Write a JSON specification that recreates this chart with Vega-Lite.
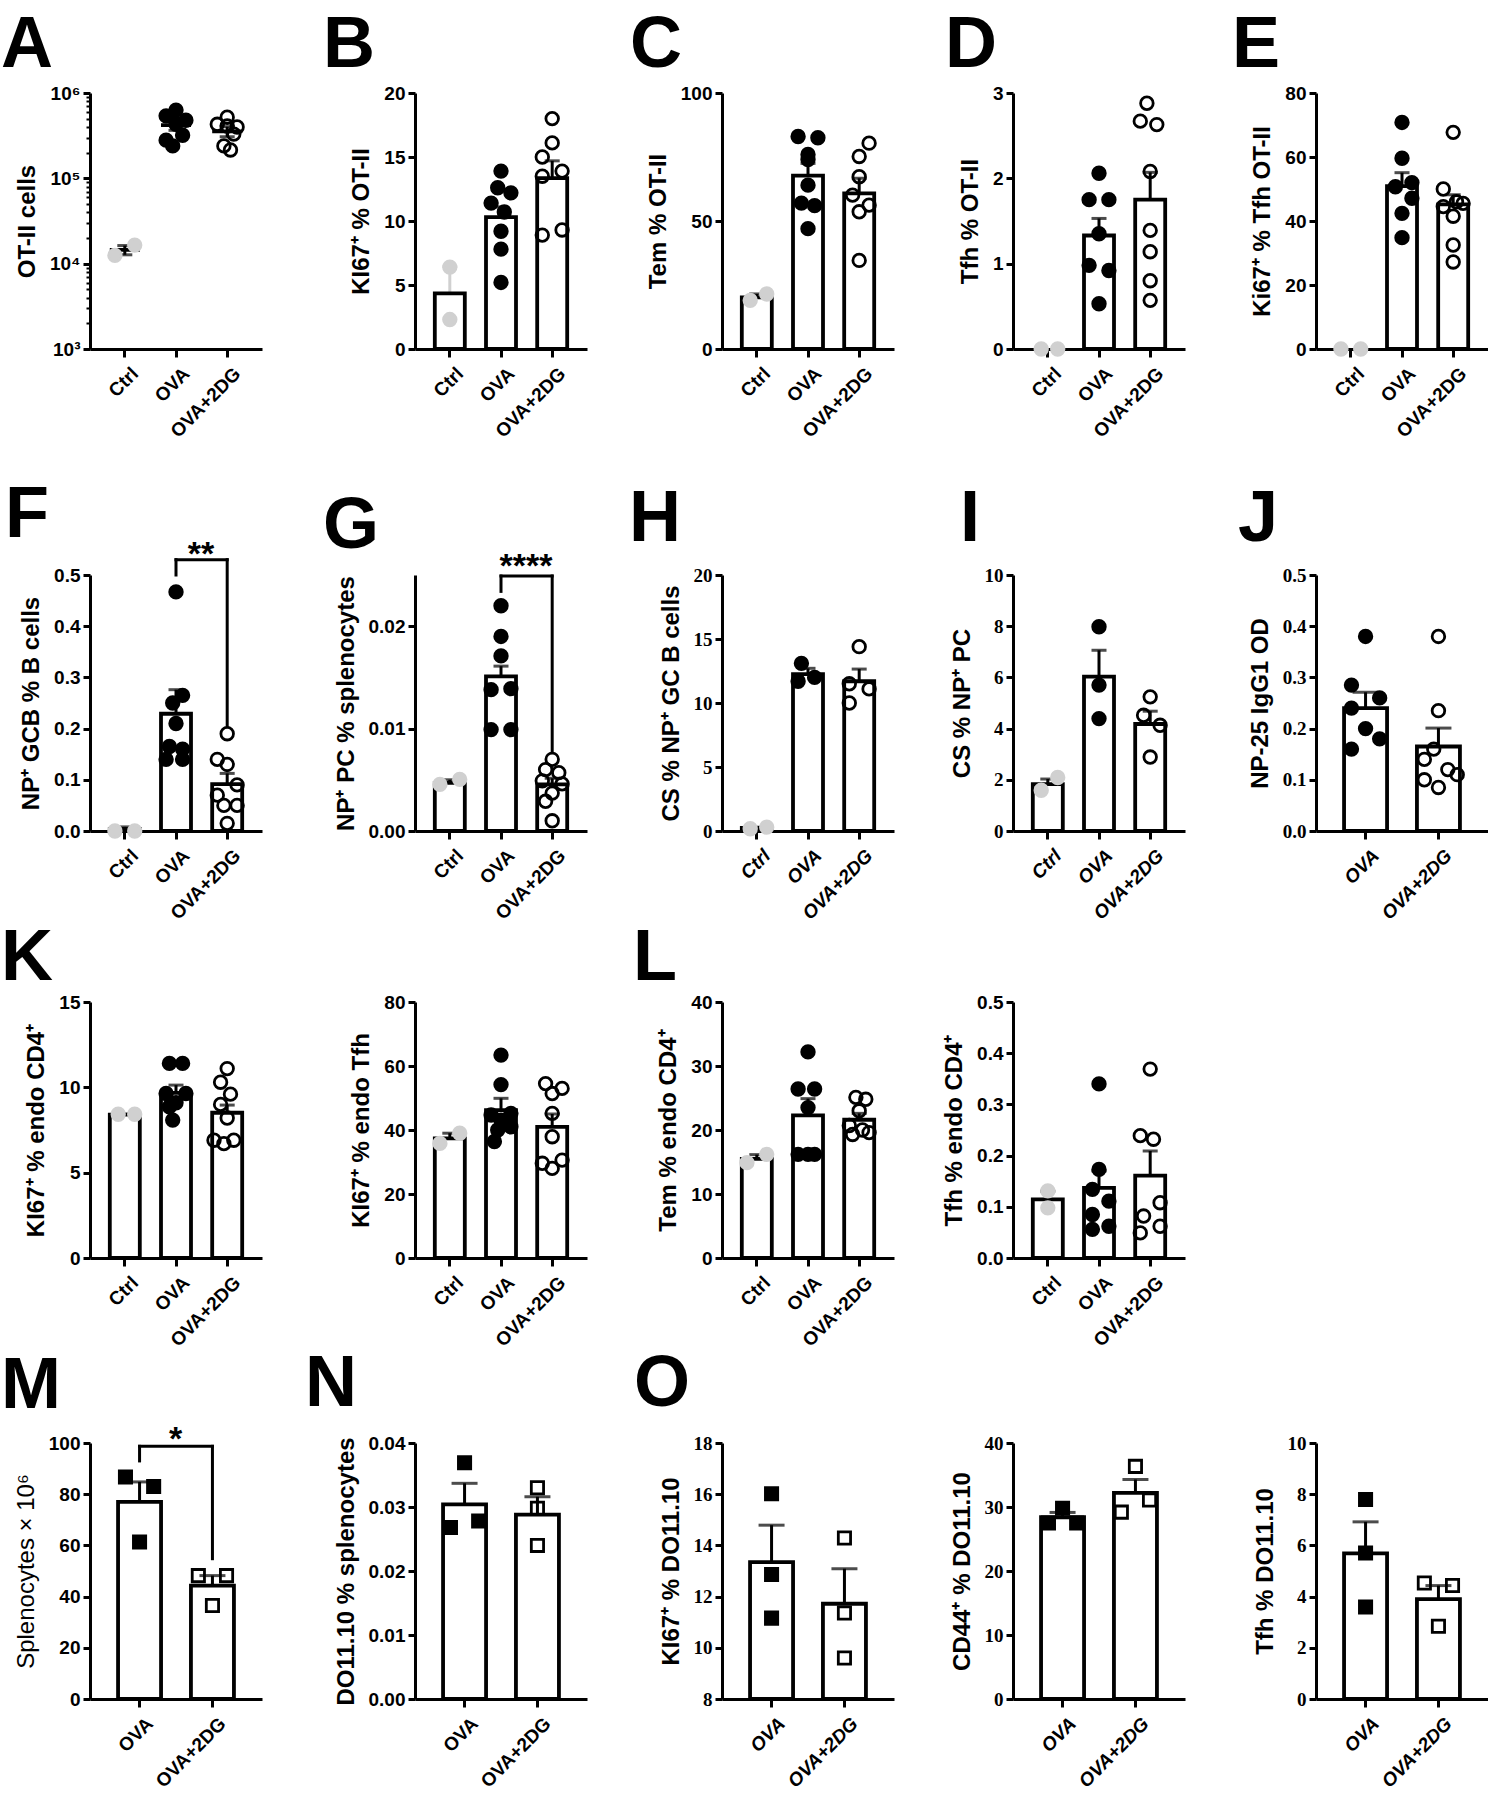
{
"$schema": "https://vega.github.io/schema/vega-lite/v6.json",
"padding": {"left": 1, "top": 9, "right": 0, "bottom": 0},
"background": "white",
"config": {
 "font": "Liberation Sans",
 "view": {"stroke": null},
 "axis": {"domainColor":"#000","domainWidth":3,"tickColor":"#000","tickWidth":3,"tickSize":7,"labelColor":"#000","labelFont":"Liberation Sans","labelFontWeight":"bold","labelFontSize":19,"titleColor":"#000","titleFont":"Liberation Sans","titleFontWeight":"bold","titleFontSize":24,"titlePadding":10,"grid":false,"labelPadding":3,"labelOverlap":false},
 "axisX": {"labelAngle":-45,"labelFontSize":19,"tickSize":8,"labelPadding":7,"labelOffset":4},
 "scale": {"bandPaddingInner":0.42,"bandPaddingOuter":0.39,"bandWithNestedOffsetPaddingInner":0.42,"bandWithNestedOffsetPaddingOuter":0.39},
 "title": {"fontSize":72,"font":"Liberation Sans","fontWeight":"bold","anchor":"start","frame":"group","color":"#000","offset":2,"orient":"top"},
 "bar": {"fill":"#fff","stroke":"#000","strokeWidth":3.8},
 "point": {"opacity":1,"filled":true,"strokeWidth":2.8,"size":158}
},
"datasets": {
 "A_s":[{"g":"Ctrl","m":14500,"s":1800},{"g":"OVA","m":420000,"s":55000},{"g":"OVA+2DG","m":355000,"s":48000}],
 "A_p":[{"g":"Ctrl","v":12500,"lane":-3},{"g":"Ctrl","v":16500,"lane":3},{"g":"OVA","v":630000,"lane":0},{"g":"OVA","v":540000,"lane":-3},{"g":"OVA","v":480000,"lane":3},{"g":"OVA","v":430000,"lane":0},{"g":"OVA","v":320000,"lane":2},{"g":"OVA","v":280000,"lane":-3},{"g":"OVA","v":240000,"lane":-1},{"g":"OVA+2DG","v":520000,"lane":0},{"g":"OVA+2DG","v":430000,"lane":-3},{"g":"OVA+2DG","v":410000,"lane":0},{"g":"OVA+2DG","v":400000,"lane":3},{"g":"OVA+2DG","v":330000,"lane":2},{"g":"OVA+2DG","v":240000,"lane":-1},{"g":"OVA+2DG","v":215000,"lane":1}],
 "B_s":[{"g":"Ctrl","m":4.35,"s":2.1},{"g":"OVA","m":10.3,"s":0.8},{"g":"OVA+2DG","m":13.35,"s":1.35}],
 "B_p":[{"g":"Ctrl","v":6.4,"lane":0},{"g":"Ctrl","v":2.3,"lane":0},{"g":"OVA","v":13.9,"lane":0},{"g":"OVA","v":12.6,"lane":-1},{"g":"OVA","v":12.2,"lane":3},{"g":"OVA","v":11.4,"lane":-3},{"g":"OVA","v":10.7,"lane":1},{"g":"OVA","v":9.2,"lane":0},{"g":"OVA","v":7.8,"lane":0},{"g":"OVA","v":5.2,"lane":0},{"g":"OVA+2DG","v":18.0,"lane":0},{"g":"OVA+2DG","v":16.1,"lane":0},{"g":"OVA+2DG","v":15.0,"lane":-3},{"g":"OVA+2DG","v":13.9,"lane":3},{"g":"OVA+2DG","v":13.5,"lane":-3},{"g":"OVA+2DG","v":9.3,"lane":3},{"g":"OVA+2DG","v":8.9,"lane":-3}],
 "C_s":[{"g":"Ctrl","m":20.2,"s":1.3},{"g":"OVA","m":67.7,"s":4.8},{"g":"OVA+2DG","m":60.8,"s":5.9}],
 "C_p":[{"g":"Ctrl","v":19.0,"lane":-2},{"g":"Ctrl","v":21.5,"lane":3},{"g":"OVA","v":83,"lane":-3},{"g":"OVA","v":82.5,"lane":3},{"g":"OVA","v":76,"lane":0},{"g":"OVA","v":74,"lane":0},{"g":"OVA","v":64,"lane":0},{"g":"OVA","v":57,"lane":-2},{"g":"OVA","v":56,"lane":2},{"g":"OVA","v":47,"lane":0},{"g":"OVA+2DG","v":80.4,"lane":3},{"g":"OVA+2DG","v":75.2,"lane":0},{"g":"OVA+2DG","v":67.3,"lane":0},{"g":"OVA+2DG","v":60.1,"lane":-2},{"g":"OVA+2DG","v":56.2,"lane":3},{"g":"OVA+2DG","v":53.6,"lane":0},{"g":"OVA+2DG","v":34.6,"lane":0}],
 "D_s":[{"g":"OVA","m":1.33,"s":0.2},{"g":"OVA+2DG","m":1.75,"s":0.32}],
 "D_p":[{"g":"Ctrl","v":0,"lane":-2},{"g":"Ctrl","v":0,"lane":3},{"g":"OVA","v":2.06,"lane":0},{"g":"OVA","v":1.75,"lane":-3},{"g":"OVA","v":1.75,"lane":3},{"g":"OVA","v":1.35,"lane":0},{"g":"OVA","v":0.98,"lane":-3},{"g":"OVA","v":0.92,"lane":3},{"g":"OVA","v":0.53,"lane":0},{"g":"OVA+2DG","v":2.88,"lane":-1},{"g":"OVA+2DG","v":2.67,"lane":-3},{"g":"OVA+2DG","v":2.63,"lane":2},{"g":"OVA+2DG","v":2.08,"lane":0},{"g":"OVA+2DG","v":1.39,"lane":0},{"g":"OVA+2DG","v":1.14,"lane":0},{"g":"OVA+2DG","v":0.8,"lane":0},{"g":"OVA+2DG","v":0.57,"lane":0}],
 "E_s":[{"g":"OVA","m":50.9,"s":4.2},{"g":"OVA+2DG","m":45.2,"s":3.0}],
 "E_p":[{"g":"Ctrl","v":0,"lane":-3},{"g":"Ctrl","v":0,"lane":3},{"g":"OVA","v":70.8,"lane":0},{"g":"OVA","v":59.6,"lane":0},{"g":"OVA","v":52,"lane":3},{"g":"OVA","v":50.7,"lane":-2},{"g":"OVA","v":47.1,"lane":3},{"g":"OVA","v":42.4,"lane":0},{"g":"OVA","v":34.8,"lane":0},{"g":"OVA+2DG","v":67.7,"lane":0},{"g":"OVA+2DG","v":50,"lane":-3},{"g":"OVA+2DG","v":46,"lane":1},{"g":"OVA+2DG","v":45.5,"lane":3},{"g":"OVA+2DG","v":44.5,"lane":-3},{"g":"OVA+2DG","v":41.5,"lane":0},{"g":"OVA+2DG","v":32.5,"lane":0},{"g":"OVA+2DG","v":27.2,"lane":0}],
 "F_s":[{"g":"Ctrl","m":0.004,"s":0.004},{"g":"OVA","m":0.229,"s":0.047},{"g":"OVA+2DG","m":0.0915,"s":0.021}],
 "F_p":[{"g":"Ctrl","v":0,"lane":-3},{"g":"Ctrl","v":0,"lane":3},{"g":"OVA","v":0.467,"lane":0},{"g":"OVA","v":0.265,"lane":2},{"g":"OVA","v":0.25,"lane":-1},{"g":"OVA","v":0.21,"lane":0},{"g":"OVA","v":0.165,"lane":-2},{"g":"OVA","v":0.16,"lane":2},{"g":"OVA","v":0.14,"lane":-3},{"g":"OVA","v":0.14,"lane":2},{"g":"OVA+2DG","v":0.19,"lane":0},{"g":"OVA+2DG","v":0.14,"lane":-3},{"g":"OVA+2DG","v":0.13,"lane":0},{"g":"OVA+2DG","v":0.09,"lane":3},{"g":"OVA+2DG","v":0.07,"lane":-3},{"g":"OVA+2DG","v":0.05,"lane":3},{"g":"OVA+2DG","v":0.05,"lane":-1},{"g":"OVA+2DG","v":0.015,"lane":0}],
 "F_b":[{"a":"OVA","b":"OVA+2DG","y1":0.53,"y2":0.53},{"a":"OVA","b":"OVA","y1":0.53,"y2":0.5},{"a":"OVA+2DG","b":"OVA+2DG","y1":0.53,"y2":0.205}],
 "F_t":[{"g":"OVA","y":0.519,"t":"**"}],
 "G_s":[{"g":"Ctrl","m":0.0047,"s":0.0003},{"g":"OVA","m":0.0151,"s":0.001},{"g":"OVA+2DG","m":0.00455,"s":0.0006}],
 "G_p":[{"g":"Ctrl","v":0.00455,"lane":-3},{"g":"Ctrl","v":0.00504,"lane":3},{"g":"OVA","v":0.022,"lane":0},{"g":"OVA","v":0.019,"lane":0},{"g":"OVA","v":0.0171,"lane":0},{"g":"OVA","v":0.0138,"lane":-3},{"g":"OVA","v":0.0139,"lane":3},{"g":"OVA","v":0.0099,"lane":-3},{"g":"OVA","v":0.0099,"lane":3},{"g":"OVA+2DG","v":0.007,"lane":0},{"g":"OVA+2DG","v":0.006,"lane":-2},{"g":"OVA+2DG","v":0.0057,"lane":2},{"g":"OVA+2DG","v":0.0049,"lane":-3},{"g":"OVA+2DG","v":0.0046,"lane":3},{"g":"OVA+2DG","v":0.0037,"lane":0},{"g":"OVA+2DG","v":0.0029,"lane":-2},{"g":"OVA+2DG","v":0.001,"lane":0}],
 "G_b":[{"a":"OVA","b":"OVA+2DG","y1":0.0249,"y2":0.0249},{"a":"OVA","b":"OVA","y1":0.0249,"y2":0.0234},{"a":"OVA+2DG","b":"OVA+2DG","y1":0.0249,"y2":0.0077}],
 "G_t":[{"g":"OVA","y":0.0248,"t":"****"}],
 "H_s":[{"g":"Ctrl","m":0.24,"s":0.06},{"g":"OVA","m":12.26,"s":0.45},{"g":"OVA+2DG","m":11.7,"s":0.95}],
 "H_p":[{"g":"Ctrl","v":0.18,"lane":-2},{"g":"Ctrl","v":0.3,"lane":3},{"g":"OVA","v":13.1,"lane":-2},{"g":"OVA","v":11.7,"lane":-3},{"g":"OVA","v":12.0,"lane":2},{"g":"OVA+2DG","v":14.4,"lane":0},{"g":"OVA+2DG","v":11.5,"lane":-3},{"g":"OVA+2DG","v":11.1,"lane":3},{"g":"OVA+2DG","v":10.0,"lane":-3}],
 "I_s":[{"g":"Ctrl","m":1.83,"s":0.2},{"g":"OVA","m":6.03,"s":1.03},{"g":"OVA+2DG","m":4.18,"s":0.5}],
 "I_p":[{"g":"Ctrl","v":1.59,"lane":-2},{"g":"Ctrl","v":2.09,"lane":3},{"g":"OVA","v":7.98,"lane":0},{"g":"OVA","v":5.7,"lane":0},{"g":"OVA","v":4.39,"lane":0},{"g":"OVA+2DG","v":5.24,"lane":0},{"g":"OVA+2DG","v":4.52,"lane":-2},{"g":"OVA+2DG","v":4.13,"lane":3},{"g":"OVA+2DG","v":2.89,"lane":0}],
 "J_s":[{"g":"OVA","m":0.24,"s":0.031},{"g":"OVA+2DG","m":0.165,"s":0.036}],
 "J_p":[{"g":"OVA","v":0.38,"lane":0},{"g":"OVA","v":0.285,"lane":-3},{"g":"OVA","v":0.26,"lane":3},{"g":"OVA","v":0.24,"lane":-3},{"g":"OVA","v":0.2,"lane":0},{"g":"OVA","v":0.18,"lane":3},{"g":"OVA","v":0.16,"lane":-3},{"g":"OVA+2DG","v":0.38,"lane":0},{"g":"OVA+2DG","v":0.235,"lane":0},{"g":"OVA+2DG","v":0.16,"lane":-1},{"g":"OVA+2DG","v":0.14,"lane":-3},{"g":"OVA+2DG","v":0.12,"lane":2},{"g":"OVA+2DG","v":0.11,"lane":4},{"g":"OVA+2DG","v":0.10,"lane":-3},{"g":"OVA+2DG","v":0.085,"lane":0}],
 "K1_s":[{"g":"Ctrl","m":8.4,"s":0.03},{"g":"OVA","m":9.68,"s":0.45},{"g":"OVA+2DG","m":8.51,"s":0.45}],
 "K1_p":[{"g":"Ctrl","v":8.42,"lane":-2},{"g":"Ctrl","v":8.42,"lane":3},{"g":"OVA","v":11.4,"lane":-2},{"g":"OVA","v":11.4,"lane":2},{"g":"OVA","v":9.64,"lane":-3},{"g":"OVA","v":9.64,"lane":3},{"g":"OVA","v":9.1,"lane":0},{"g":"OVA","v":8.86,"lane":-2},{"g":"OVA","v":8.08,"lane":-1},{"g":"OVA+2DG","v":11.1,"lane":0},{"g":"OVA+2DG","v":10.3,"lane":-2},{"g":"OVA+2DG","v":9.6,"lane":1},{"g":"OVA+2DG","v":9.0,"lane":-2},{"g":"OVA+2DG","v":8.2,"lane":0},{"g":"OVA+2DG","v":6.9,"lane":-4},{"g":"OVA+2DG","v":6.9,"lane":2},{"g":"OVA+2DG","v":6.7,"lane":-1}],
 "K2_s":[{"g":"Ctrl","m":37.4,"s":1.6},{"g":"OVA","m":46.2,"s":3.7},{"g":"OVA+2DG","m":41.0,"s":4.0}],
 "K2_p":[{"g":"Ctrl","v":35.8,"lane":-3},{"g":"Ctrl","v":39,"lane":3},{"g":"OVA","v":63.4,"lane":0},{"g":"OVA","v":54.2,"lane":0},{"g":"OVA","v":45.2,"lane":3},{"g":"OVA","v":44.7,"lane":-3},{"g":"OVA","v":43.1,"lane":0},{"g":"OVA","v":41,"lane":3},{"g":"OVA","v":40,"lane":-1},{"g":"OVA","v":36.4,"lane":-2},{"g":"OVA+2DG","v":54.5,"lane":-2},{"g":"OVA+2DG","v":53,"lane":3},{"g":"OVA+2DG","v":51.4,"lane":0},{"g":"OVA+2DG","v":45.2,"lane":0},{"g":"OVA+2DG","v":37.9,"lane":0},{"g":"OVA+2DG","v":30.6,"lane":3},{"g":"OVA+2DG","v":29.6,"lane":-3},{"g":"OVA+2DG","v":28,"lane":0}],
 "L1_s":[{"g":"Ctrl","m":15.5,"s":0.65},{"g":"OVA","m":22.3,"s":2.6},{"g":"OVA+2DG","m":21.6,"s":1.0}],
 "L1_p":[{"g":"Ctrl","v":14.9,"lane":-3},{"g":"Ctrl","v":16.2,"lane":3},{"g":"OVA","v":32.2,"lane":0},{"g":"OVA","v":26.4,"lane":-3},{"g":"OVA","v":26.4,"lane":2},{"g":"OVA","v":23.5,"lane":0},{"g":"OVA","v":16.2,"lane":-3},{"g":"OVA","v":16.2,"lane":2},{"g":"OVA","v":16.2,"lane":0},{"g":"OVA+2DG","v":25.1,"lane":-1},{"g":"OVA+2DG","v":24.8,"lane":2},{"g":"OVA+2DG","v":23,"lane":0},{"g":"OVA+2DG","v":20.7,"lane":-3},{"g":"OVA+2DG","v":20,"lane":1},{"g":"OVA+2DG","v":19.6,"lane":3},{"g":"OVA+2DG","v":19.3,"lane":-2}],
 "L2_s":[{"g":"Ctrl","m":0.1145,"s":0.016},{"g":"OVA","m":0.137,"s":0.033},{"g":"OVA+2DG","m":0.161,"s":0.048}],
 "L2_p":[{"g":"Ctrl","v":0.131,"lane":0},{"g":"Ctrl","v":0.098,"lane":0},{"g":"OVA","v":0.34,"lane":0},{"g":"OVA","v":0.173,"lane":0},{"g":"OVA","v":0.134,"lane":-2},{"g":"OVA","v":0.111,"lane":3},{"g":"OVA","v":0.085,"lane":-2},{"g":"OVA","v":0.062,"lane":3},{"g":"OVA","v":0.056,"lane":-2},{"g":"OVA+2DG","v":0.369,"lane":0},{"g":"OVA+2DG","v":0.239,"lane":-3},{"g":"OVA+2DG","v":0.232,"lane":1},{"g":"OVA+2DG","v":0.108,"lane":3},{"g":"OVA+2DG","v":0.082,"lane":-2},{"g":"OVA+2DG","v":0.062,"lane":3},{"g":"OVA+2DG","v":0.049,"lane":-3}],
 "M_s":[{"g":"OVA","m":77,"s":7.8},{"g":"OVA+2DG","m":44.3,"s":3.9}],
 "M_p":[{"g":"OVA","v":86.7,"lane":-3},{"g":"OVA","v":83,"lane":3},{"g":"OVA","v":61.3,"lane":0},{"g":"OVA+2DG","v":48.2,"lane":-3},{"g":"OVA+2DG","v":48.2,"lane":3},{"g":"OVA+2DG","v":36.5,"lane":0}],
 "M_b":[{"a":"OVA","b":"OVA+2DG","y1":98.7,"y2":98.7},{"a":"OVA","b":"OVA","y1":98.7,"y2":93},{"a":"OVA+2DG","b":"OVA+2DG","y1":98.7,"y2":54.8}],
 "M_t":[{"g":"OVA","y":97.4,"t":"*"}],
 "N_s":[{"g":"OVA","m":0.0304,"s":0.0033},{"g":"OVA+2DG","m":0.0288,"s":0.0028}],
 "N_p":[{"g":"OVA","v":0.0369,"lane":0},{"g":"OVA","v":0.0268,"lane":-3},{"g":"OVA","v":0.0278,"lane":3},{"g":"OVA+2DG","v":0.033,"lane":0},{"g":"OVA+2DG","v":0.0298,"lane":0},{"g":"OVA+2DG","v":0.024,"lane":0}],
 "O1_s":[{"g":"OVA","m":13.35,"s":1.44},{"g":"OVA+2DG","m":11.72,"s":1.37}],
 "O1_p":[{"g":"OVA","v":16.02,"lane":0},{"g":"OVA","v":12.86,"lane":0},{"g":"OVA","v":11.16,"lane":0},{"g":"OVA+2DG","v":14.29,"lane":0},{"g":"OVA+2DG","v":11.36,"lane":0},{"g":"OVA+2DG","v":9.6,"lane":0}],
 "O2_s":[{"g":"OVA","m":28.4,"s":0.75},{"g":"OVA+2DG","m":32.2,"s":2.1}],
 "O2_p":[{"g":"OVA","v":27.5,"lane":-3},{"g":"OVA","v":29.8,"lane":0},{"g":"OVA","v":27.5,"lane":3},{"g":"OVA+2DG","v":36.35,"lane":0},{"g":"OVA+2DG","v":29.2,"lane":-3},{"g":"OVA+2DG","v":31.1,"lane":3}],
 "O3_s":[{"g":"OVA","m":5.69,"s":1.23},{"g":"OVA+2DG","m":3.9,"s":0.53}],
 "O3_p":[{"g":"OVA","v":7.79,"lane":0},{"g":"OVA","v":5.7,"lane":0},{"g":"OVA","v":3.59,"lane":0},{"g":"OVA+2DG","v":4.53,"lane":-3},{"g":"OVA+2DG","v":4.43,"lane":3},{"g":"OVA+2DG","v":2.84,"lane":0}],
 "empty":[]
},
"resolve": {"scale": {"xOffset":"independent","fill":"independent","stroke":"independent"}},
"columns": 5,
"align": "each",
"bounds": "flush",
"spacing": {"row": 80, "column": 119},
"concat": [
  {"width":172,"height":256,"title":{"text":"A","dx":-89},"resolve":{"axis":{"y":"independent"}},"layer":[
   {"data":{"name":"A_s"},"mark":{"type":"errorbar","ticks":true,"thickness":3,"size":15,"color":"#000"},"encoding":{"x":{"field":"g","type":"nominal","title":null},"y":{"field":"m","type":"quantitative","axis":null},"yError":{"field":"s"}}},
   {"data":{"name":"A_s"},"mark":{"type":"bar","width":30},"encoding":{"x":{"field":"g","type":"nominal","title":null,"scale":{"domain":["Ctrl","OVA","OVA+2DG"],"paddingInner":0.42,"paddingOuter":0.39},"axis":{}},"y":{"field":"m","type":"quantitative","scale":{"type":"log","domain":[1000,1000000],"nice":false},"axis":{"orient":"left","title":"OT-II cells","values":[1000,10000,100000,1000000],"labelExpr":"datum.value >= 999999 ? '10⁶' : datum.value >= 99999 ? '10⁵' : datum.value >= 9999 ? '10⁴' : '10³'"}}}},
   {"data":{"name":"A_p"},"mark":{"type":"point","shape":"circle"},"encoding":{"x":{"field":"g","type":"nominal","title":null},"xOffset":{"field":"lane","type":"ordinal","scale":{"domain":[-4,-3,-2,-1,0,1,2,3,4]}},"y":{"field":"v","type":"quantitative","axis":{"orient":"left","title":null,"labels":false,"domain":false,"tickSize":4,"tickWidth":2,"values":[2000,3000,4000,5000,6000,7000,8000,9000,20000,30000,40000,50000,60000,70000,80000,90000,200000,300000,400000,500000,600000,700000,800000,900000]}},"fill":{"field":"g","type":"nominal","scale":{"domain":["Ctrl","OVA","OVA+2DG"],"range":["#d0d0d0","#000000","transparent"]},"legend":null},"stroke":{"field":"g","type":"nominal","scale":{"domain":["Ctrl","OVA","OVA+2DG"],"range":["#d0d0d0","#000000","#000000"]},"legend":null}}}
  ]},
  {"width":172,"height":256,"title":{"text":"B","dx":-92},"layer":[
   {"data":{"name":"B_s"},"mark":{"type":"errorbar","ticks":true,"thickness":3,"size":15},"encoding":{"x":{"field":"g","type":"nominal","title":null},"y":{"field":"m","type":"quantitative","title":"KI67⁺ % OT-II"},"yError":{"field":"s"},"color":{"condition":{"test":"datum.g === 'Ctrl'","value":"#d0d0d0"},"value":"#000000"}}},
   {"data":{"name":"B_s"},"mark":{"type":"bar","width":30},"encoding":{"x":{"field":"g","type":"nominal","title":null,"scale":{"domain":["Ctrl","OVA","OVA+2DG"],"paddingInner":0.42,"paddingOuter":0.39},"axis":{}},"y":{"field":"m","type":"quantitative","title":"KI67⁺ % OT-II","scale":{"domain":[0,20],"nice":false},"axis":{"values":[0,5,10,15,20],"format":"d"}}}},
   {"data":{"name":"B_p"},"mark":{"type":"point","shape":"circle"},"encoding":{"x":{"field":"g","type":"nominal","title":null},"xOffset":{"field":"lane","type":"ordinal","scale":{"domain":[-4,-3,-2,-1,0,1,2,3,4]}},"y":{"field":"v","type":"quantitative","title":"KI67⁺ % OT-II"},"fill":{"field":"g","type":"nominal","scale":{"domain":["Ctrl","OVA","OVA+2DG"],"range":["#d0d0d0","#000000","transparent"]},"legend":null},"stroke":{"field":"g","type":"nominal","scale":{"domain":["Ctrl","OVA","OVA+2DG"],"range":["#d0d0d0","#000000","#000000"]},"legend":null}}}
  ]},
  {"width":172,"height":256,"title":{"text":"C","dx":-92},"layer":[
   {"data":{"name":"C_s"},"mark":{"type":"errorbar","ticks":true,"thickness":3,"size":15,"color":"#000"},"encoding":{"x":{"field":"g","type":"nominal","title":null},"y":{"field":"m","type":"quantitative","title":"Tem % OT-II"},"yError":{"field":"s"}}},
   {"data":{"name":"C_s"},"mark":{"type":"bar","width":30},"encoding":{"x":{"field":"g","type":"nominal","title":null,"scale":{"domain":["Ctrl","OVA","OVA+2DG"],"paddingInner":0.42,"paddingOuter":0.39},"axis":{}},"y":{"field":"m","type":"quantitative","title":"Tem % OT-II","scale":{"domain":[0,100],"nice":false},"axis":{"values":[0,50,100],"format":"d"}}}},
   {"data":{"name":"C_p"},"mark":{"type":"point","shape":"circle"},"encoding":{"x":{"field":"g","type":"nominal","title":null},"xOffset":{"field":"lane","type":"ordinal","scale":{"domain":[-4,-3,-2,-1,0,1,2,3,4]}},"y":{"field":"v","type":"quantitative","title":"Tem % OT-II"},"fill":{"field":"g","type":"nominal","scale":{"domain":["Ctrl","OVA","OVA+2DG"],"range":["#d0d0d0","#000000","transparent"]},"legend":null},"stroke":{"field":"g","type":"nominal","scale":{"domain":["Ctrl","OVA","OVA+2DG"],"range":["#d0d0d0","#000000","#000000"]},"legend":null}}}
  ]},
  {"width":172,"height":256,"title":{"text":"D","dx":-68},"layer":[
   {"data":{"name":"D_s"},"mark":{"type":"errorbar","ticks":true,"thickness":3,"size":15,"color":"#000"},"encoding":{"x":{"field":"g","type":"nominal","title":null},"y":{"field":"m","type":"quantitative","title":"Tfh % OT-II"},"yError":{"field":"s"}}},
   {"data":{"name":"D_s"},"mark":{"type":"bar","width":30},"encoding":{"x":{"field":"g","type":"nominal","title":null,"scale":{"domain":["Ctrl","OVA","OVA+2DG"],"paddingInner":0.42,"paddingOuter":0.39},"axis":{}},"y":{"field":"m","type":"quantitative","title":"Tfh % OT-II","scale":{"domain":[0,3],"nice":false},"axis":{"values":[0,1,2,3],"format":"d"}}}},
   {"data":{"name":"D_p"},"mark":{"type":"point","shape":"circle"},"encoding":{"x":{"field":"g","type":"nominal","title":null},"xOffset":{"field":"lane","type":"ordinal","scale":{"domain":[-4,-3,-2,-1,0,1,2,3,4]}},"y":{"field":"v","type":"quantitative","title":"Tfh % OT-II"},"fill":{"field":"g","type":"nominal","scale":{"domain":["Ctrl","OVA","OVA+2DG"],"range":["#d0d0d0","#000000","transparent"]},"legend":null},"stroke":{"field":"g","type":"nominal","scale":{"domain":["Ctrl","OVA","OVA+2DG"],"range":["#d0d0d0","#000000","#000000"]},"legend":null}}}
  ]},
  {"width":172,"height":256,"title":{"text":"E","dx":-84},"layer":[
   {"data":{"name":"E_s"},"mark":{"type":"errorbar","ticks":true,"thickness":3,"size":15,"color":"#000"},"encoding":{"x":{"field":"g","type":"nominal","title":null},"y":{"field":"m","type":"quantitative","title":"Ki67⁺ % Tfh OT-II"},"yError":{"field":"s"}}},
   {"data":{"name":"E_s"},"mark":{"type":"bar","width":30},"encoding":{"x":{"field":"g","type":"nominal","title":null,"scale":{"domain":["Ctrl","OVA","OVA+2DG"],"paddingInner":0.42,"paddingOuter":0.39},"axis":{}},"y":{"field":"m","type":"quantitative","title":"Ki67⁺ % Tfh OT-II","scale":{"domain":[0,80],"nice":false},"axis":{"values":[0,20,40,60,80],"format":"d"}}}},
   {"data":{"name":"E_p"},"mark":{"type":"point","shape":"circle"},"encoding":{"x":{"field":"g","type":"nominal","title":null},"xOffset":{"field":"lane","type":"ordinal","scale":{"domain":[-4,-3,-2,-1,0,1,2,3,4]}},"y":{"field":"v","type":"quantitative","title":"Ki67⁺ % Tfh OT-II"},"fill":{"field":"g","type":"nominal","scale":{"domain":["Ctrl","OVA","OVA+2DG"],"range":["#d0d0d0","#000000","transparent"]},"legend":null},"stroke":{"field":"g","type":"nominal","scale":{"domain":["Ctrl","OVA","OVA+2DG"],"range":["#d0d0d0","#000000","#000000"]},"legend":null}}}
  ]},
  {"width":206,"height":66,"data":{"name":"empty"},"mark":"point"},
  {"width":188,"height":66,"data":{"name":"empty"},"mark":"point"},
  {"width":172,"height":66,"data":{"name":"empty"},"mark":"point"},
  {"width":184,"height":66,"data":{"name":"empty"},"mark":"point"},
  {"width":172,"height":66,"data":{"name":"empty"},"mark":"point"},
  {"width":172,"height":256,"title":{"text":"F","dx":-85,"offset":-14},"layer":[
   {"data":{"name":"F_s"},"mark":{"type":"errorbar","ticks":true,"thickness":3,"size":15,"color":"#000"},"encoding":{"x":{"field":"g","type":"nominal","title":null},"y":{"field":"m","type":"quantitative","title":"NP⁺ GCB % B cells"},"yError":{"field":"s"}}},
   {"data":{"name":"F_s"},"mark":{"type":"bar","width":30},"encoding":{"x":{"field":"g","type":"nominal","title":null,"scale":{"domain":["Ctrl","OVA","OVA+2DG"],"paddingInner":0.42,"paddingOuter":0.39},"axis":{}},"y":{"field":"m","type":"quantitative","title":"NP⁺ GCB % B cells","scale":{"domain":[0,0.5],"nice":false},"axis":{"values":[0,0.1,0.2,0.3,0.4,0.5],"format":".1f"}}}},
   {"data":{"name":"F_p"},"mark":{"type":"point","shape":"circle"},"encoding":{"x":{"field":"g","type":"nominal","title":null},"xOffset":{"field":"lane","type":"ordinal","scale":{"domain":[-4,-3,-2,-1,0,1,2,3,4]}},"y":{"field":"v","type":"quantitative","title":"NP⁺ GCB % B cells"},"fill":{"field":"g","type":"nominal","scale":{"domain":["Ctrl","OVA","OVA+2DG"],"range":["#d0d0d0","#000000","transparent"]},"legend":null},"stroke":{"field":"g","type":"nominal","scale":{"domain":["Ctrl","OVA","OVA+2DG"],"range":["#d0d0d0","#000000","#000000"]},"legend":null}}},
   {"data":{"name":"F_b"},"mark":{"type":"rule","strokeWidth":3,"color":"#000","strokeCap":"square"},"encoding":{"x":{"field":"a","type":"nominal","title":null},"x2":{"field":"b"},"y":{"field":"y1","type":"quantitative","title":"NP⁺ GCB % B cells"},"y2":{"field":"y2"}}},
   {"data":{"name":"F_t"},"mark":{"type":"text","fontSize":34,"fontWeight":"bold","dx":25,"baseline":"alphabetic","align":"center","color":"#000"},"encoding":{"x":{"field":"g","type":"nominal","title":null},"y":{"field":"y","type":"quantitative","title":"NP⁺ GCB % B cells"},"text":{"field":"t"}}}
  ]},
  {"width":172,"height":256,"title":{"text":"G","dx":-92,"offset":-13},"layer":[
   {"data":{"name":"G_s"},"mark":{"type":"errorbar","ticks":true,"thickness":3,"size":15,"color":"#000"},"encoding":{"x":{"field":"g","type":"nominal","title":null},"y":{"field":"m","type":"quantitative","title":"NP⁺ PC % splenocytes"},"yError":{"field":"s"}}},
   {"data":{"name":"G_s"},"mark":{"type":"bar","width":30},"encoding":{"x":{"field":"g","type":"nominal","title":null,"scale":{"domain":["Ctrl","OVA","OVA+2DG"],"paddingInner":0.42,"paddingOuter":0.39},"axis":{}},"y":{"field":"m","type":"quantitative","title":"NP⁺ PC % splenocytes","scale":{"domain":[0,0.025],"nice":false},"axis":{"values":[0,0.01,0.02],"format":".2f"}}}},
   {"data":{"name":"G_p"},"mark":{"type":"point","shape":"circle"},"encoding":{"x":{"field":"g","type":"nominal","title":null},"xOffset":{"field":"lane","type":"ordinal","scale":{"domain":[-4,-3,-2,-1,0,1,2,3,4]}},"y":{"field":"v","type":"quantitative","title":"NP⁺ PC % splenocytes"},"fill":{"field":"g","type":"nominal","scale":{"domain":["Ctrl","OVA","OVA+2DG"],"range":["#d0d0d0","#000000","transparent"]},"legend":null},"stroke":{"field":"g","type":"nominal","scale":{"domain":["Ctrl","OVA","OVA+2DG"],"range":["#d0d0d0","#000000","#000000"]},"legend":null}}},
   {"data":{"name":"G_b"},"mark":{"type":"rule","strokeWidth":3,"color":"#000","strokeCap":"square"},"encoding":{"x":{"field":"a","type":"nominal","title":null},"x2":{"field":"b"},"y":{"field":"y1","type":"quantitative","title":"NP⁺ PC % splenocytes"},"y2":{"field":"y2"}}},
   {"data":{"name":"G_t"},"mark":{"type":"text","fontSize":34,"fontWeight":"bold","dx":25,"baseline":"alphabetic","align":"center","color":"#000"},"encoding":{"x":{"field":"g","type":"nominal","title":null},"y":{"field":"y","type":"quantitative","title":"NP⁺ PC % splenocytes"},"text":{"field":"t"}}}
  ]},
  {"width":172,"height":256,"title":{"text":"H","dx":-93,"offset":10},"layer":[
   {"data":{"name":"H_s"},"mark":{"type":"errorbar","ticks":true,"thickness":3,"size":15,"color":"#000"},"encoding":{"x":{"field":"g","type":"nominal","title":null},"y":{"field":"m","type":"quantitative","title":"CS % NP⁺ GC B cells"},"yError":{"field":"s"}}},
   {"data":{"name":"H_s"},"mark":{"type":"bar","width":30},"encoding":{"x":{"field":"g","type":"nominal","title":null,"scale":{"domain":["Ctrl","OVA","OVA+2DG"],"paddingInner":0.42,"paddingOuter":0.39},"axis":{"labelFontStyle":"italic"}},"y":{"field":"m","type":"quantitative","title":"CS % NP⁺ GC B cells","scale":{"domain":[0,20],"nice":false},"axis":{"values":[0,5,10,15,20],"format":"d","labelFont":"Liberation Sans Narrow"}}}},
   {"data":{"name":"H_p"},"mark":{"type":"point","shape":"circle"},"encoding":{"x":{"field":"g","type":"nominal","title":null},"xOffset":{"field":"lane","type":"ordinal","scale":{"domain":[-4,-3,-2,-1,0,1,2,3,4]}},"y":{"field":"v","type":"quantitative","title":"CS % NP⁺ GC B cells"},"fill":{"field":"g","type":"nominal","scale":{"domain":["Ctrl","OVA","OVA+2DG"],"range":["#d0d0d0","#000000","transparent"]},"legend":null},"stroke":{"field":"g","type":"nominal","scale":{"domain":["Ctrl","OVA","OVA+2DG"],"range":["#d0d0d0","#000000","#000000"]},"legend":null}}}
  ]},
  {"width":172,"height":256,"title":{"text":"I","dx":-53,"offset":10},"layer":[
   {"data":{"name":"I_s"},"mark":{"type":"errorbar","ticks":true,"thickness":3,"size":15,"color":"#000"},"encoding":{"x":{"field":"g","type":"nominal","title":null},"y":{"field":"m","type":"quantitative","title":"CS % NP⁺ PC"},"yError":{"field":"s"}}},
   {"data":{"name":"I_s"},"mark":{"type":"bar","width":30},"encoding":{"x":{"field":"g","type":"nominal","title":null,"scale":{"domain":["Ctrl","OVA","OVA+2DG"],"paddingInner":0.42,"paddingOuter":0.39},"axis":{"labelFontStyle":"italic"}},"y":{"field":"m","type":"quantitative","title":"CS % NP⁺ PC","scale":{"domain":[0,10],"nice":false},"axis":{"values":[0,2,4,6,8,10],"format":"d","labelFont":"Liberation Sans Narrow"}}}},
   {"data":{"name":"I_p"},"mark":{"type":"point","shape":"circle"},"encoding":{"x":{"field":"g","type":"nominal","title":null},"xOffset":{"field":"lane","type":"ordinal","scale":{"domain":[-4,-3,-2,-1,0,1,2,3,4]}},"y":{"field":"v","type":"quantitative","title":"CS % NP⁺ PC"},"fill":{"field":"g","type":"nominal","scale":{"domain":["Ctrl","OVA","OVA+2DG"],"range":["#d0d0d0","#000000","transparent"]},"legend":null},"stroke":{"field":"g","type":"nominal","scale":{"domain":["Ctrl","OVA","OVA+2DG"],"range":["#d0d0d0","#000000","#000000"]},"legend":null}}}
  ]},
  {"width":172,"height":256,"title":{"text":"J","dx":-78,"offset":10},"layer":[
   {"data":{"name":"J_s"},"mark":{"type":"errorbar","ticks":true,"thickness":3,"size":26,"color":"#000"},"encoding":{"x":{"field":"g","type":"nominal","title":null},"y":{"field":"m","type":"quantitative","title":"NP-25 IgG1 OD"},"yError":{"field":"s"}}},
   {"data":{"name":"J_s"},"mark":{"type":"bar","width":43},"encoding":{"x":{"field":"g","type":"nominal","title":null,"scale":{"domain":["OVA","OVA+2DG"],"paddingInner":0.42,"paddingOuter":0.39},"axis":{"labelFontStyle":"italic"}},"y":{"field":"m","type":"quantitative","title":"NP-25 IgG1 OD","scale":{"domain":[0,0.5],"nice":false},"axis":{"values":[0,0.1,0.2,0.3,0.4,0.5],"format":".1f","labelFont":"Liberation Sans Narrow"}}}},
   {"data":{"name":"J_p"},"mark":{"type":"point","shape":"circle"},"encoding":{"x":{"field":"g","type":"nominal","title":null},"xOffset":{"field":"lane","type":"ordinal","scale":{"domain":[-4,-3,-2,-1,0,1,2,3,4]}},"y":{"field":"v","type":"quantitative","title":"NP-25 IgG1 OD"},"fill":{"field":"g","type":"nominal","scale":{"domain":["Ctrl","OVA","OVA+2DG"],"range":["#d0d0d0","#000000","transparent"]},"legend":null},"stroke":{"field":"g","type":"nominal","scale":{"domain":["Ctrl","OVA","OVA+2DG"],"range":["#d0d0d0","#000000","#000000"]},"legend":null}}}
  ]},
  {"width":1,"height":11,"data":{"name":"empty"},"mark":"point"},
  {"width":1,"height":11,"data":{"name":"empty"},"mark":"point"},
  {"width":1,"height":11,"data":{"name":"empty"},"mark":"point"},
  {"width":1,"height":11,"data":{"name":"empty"},"mark":"point"},
  {"width":1,"height":11,"data":{"name":"empty"},"mark":"point"},
  {"width":172,"height":256,"title":{"text":"K","dx":-89,"offset":-2},"layer":[
   {"data":{"name":"K1_s"},"mark":{"type":"errorbar","ticks":true,"thickness":3,"size":15,"color":"#000"},"encoding":{"x":{"field":"g","type":"nominal","title":null},"y":{"field":"m","type":"quantitative","title":"KI67⁺ % endo CD4⁺"},"yError":{"field":"s"}}},
   {"data":{"name":"K1_s"},"mark":{"type":"bar","width":30},"encoding":{"x":{"field":"g","type":"nominal","title":null,"scale":{"domain":["Ctrl","OVA","OVA+2DG"],"paddingInner":0.42,"paddingOuter":0.39},"axis":{}},"y":{"field":"m","type":"quantitative","title":"KI67⁺ % endo CD4⁺","scale":{"domain":[0,15],"nice":false},"axis":{"values":[0,5,10,15],"format":"d"}}}},
   {"data":{"name":"K1_p"},"mark":{"type":"point","shape":"circle"},"encoding":{"x":{"field":"g","type":"nominal","title":null},"xOffset":{"field":"lane","type":"ordinal","scale":{"domain":[-4,-3,-2,-1,0,1,2,3,4]}},"y":{"field":"v","type":"quantitative","title":"KI67⁺ % endo CD4⁺"},"fill":{"field":"g","type":"nominal","scale":{"domain":["Ctrl","OVA","OVA+2DG"],"range":["#d0d0d0","#000000","transparent"]},"legend":null},"stroke":{"field":"g","type":"nominal","scale":{"domain":["Ctrl","OVA","OVA+2DG"],"range":["#d0d0d0","#000000","#000000"]},"legend":null}}}
  ]},
  {"width":172,"height":256,"layer":[
   {"data":{"name":"K2_s"},"mark":{"type":"errorbar","ticks":true,"thickness":3,"size":15,"color":"#000"},"encoding":{"x":{"field":"g","type":"nominal","title":null},"y":{"field":"m","type":"quantitative","title":"KI67⁺ % endo Tfh"},"yError":{"field":"s"}}},
   {"data":{"name":"K2_s"},"mark":{"type":"bar","width":30},"encoding":{"x":{"field":"g","type":"nominal","title":null,"scale":{"domain":["Ctrl","OVA","OVA+2DG"],"paddingInner":0.42,"paddingOuter":0.39},"axis":{}},"y":{"field":"m","type":"quantitative","title":"KI67⁺ % endo Tfh","scale":{"domain":[0,80],"nice":false},"axis":{"values":[0,20,40,60,80],"format":"d"}}}},
   {"data":{"name":"K2_p"},"mark":{"type":"point","shape":"circle"},"encoding":{"x":{"field":"g","type":"nominal","title":null},"xOffset":{"field":"lane","type":"ordinal","scale":{"domain":[-4,-3,-2,-1,0,1,2,3,4]}},"y":{"field":"v","type":"quantitative","title":"KI67⁺ % endo Tfh"},"fill":{"field":"g","type":"nominal","scale":{"domain":["Ctrl","OVA","OVA+2DG"],"range":["#d0d0d0","#000000","transparent"]},"legend":null},"stroke":{"field":"g","type":"nominal","scale":{"domain":["Ctrl","OVA","OVA+2DG"],"range":["#d0d0d0","#000000","#000000"]},"legend":null}}}
  ]},
  {"width":172,"height":256,"title":{"text":"L","dx":-89,"offset":-2},"layer":[
   {"data":{"name":"L1_s"},"mark":{"type":"errorbar","ticks":true,"thickness":3,"size":15,"color":"#000"},"encoding":{"x":{"field":"g","type":"nominal","title":null},"y":{"field":"m","type":"quantitative","title":"Tem % endo CD4⁺"},"yError":{"field":"s"}}},
   {"data":{"name":"L1_s"},"mark":{"type":"bar","width":30},"encoding":{"x":{"field":"g","type":"nominal","title":null,"scale":{"domain":["Ctrl","OVA","OVA+2DG"],"paddingInner":0.42,"paddingOuter":0.39},"axis":{}},"y":{"field":"m","type":"quantitative","title":"Tem % endo CD4⁺","scale":{"domain":[0,40],"nice":false},"axis":{"values":[0,10,20,30,40],"format":"d"}}}},
   {"data":{"name":"L1_p"},"mark":{"type":"point","shape":"circle"},"encoding":{"x":{"field":"g","type":"nominal","title":null},"xOffset":{"field":"lane","type":"ordinal","scale":{"domain":[-4,-3,-2,-1,0,1,2,3,4]}},"y":{"field":"v","type":"quantitative","title":"Tem % endo CD4⁺"},"fill":{"field":"g","type":"nominal","scale":{"domain":["Ctrl","OVA","OVA+2DG"],"range":["#d0d0d0","#000000","transparent"]},"legend":null},"stroke":{"field":"g","type":"nominal","scale":{"domain":["Ctrl","OVA","OVA+2DG"],"range":["#d0d0d0","#000000","#000000"]},"legend":null}}}
  ]},
  {"width":172,"height":256,"layer":[
   {"data":{"name":"L2_s"},"mark":{"type":"errorbar","ticks":true,"thickness":3,"size":15,"color":"#000"},"encoding":{"x":{"field":"g","type":"nominal","title":null},"y":{"field":"m","type":"quantitative","title":"Tfh % endo CD4⁺"},"yError":{"field":"s"}}},
   {"data":{"name":"L2_s"},"mark":{"type":"bar","width":30},"encoding":{"x":{"field":"g","type":"nominal","title":null,"scale":{"domain":["Ctrl","OVA","OVA+2DG"],"paddingInner":0.42,"paddingOuter":0.39},"axis":{}},"y":{"field":"m","type":"quantitative","title":"Tfh % endo CD4⁺","scale":{"domain":[0,0.5],"nice":false},"axis":{"values":[0,0.1,0.2,0.3,0.4,0.5],"format":".1f"}}}},
   {"data":{"name":"L2_p"},"mark":{"type":"point","shape":"circle"},"encoding":{"x":{"field":"g","type":"nominal","title":null},"xOffset":{"field":"lane","type":"ordinal","scale":{"domain":[-4,-3,-2,-1,0,1,2,3,4]}},"y":{"field":"v","type":"quantitative","title":"Tfh % endo CD4⁺"},"fill":{"field":"g","type":"nominal","scale":{"domain":["Ctrl","OVA","OVA+2DG"],"range":["#d0d0d0","#000000","transparent"]},"legend":null},"stroke":{"field":"g","type":"nominal","scale":{"domain":["Ctrl","OVA","OVA+2DG"],"range":["#d0d0d0","#000000","#000000"]},"legend":null}}}
  ]},
  {"width":1,"height":1,"data":{"name":"empty"},"mark":"point"},
  {"width":1,"height":25,"data":{"name":"empty"},"mark":"point"},
  {"width":1,"height":25,"data":{"name":"empty"},"mark":"point"},
  {"width":1,"height":25,"data":{"name":"empty"},"mark":"point"},
  {"width":1,"height":25,"data":{"name":"empty"},"mark":"point"},
  {"width":1,"height":25,"data":{"name":"empty"},"mark":"point"},
  {"width":172,"height":256,"title":{"text":"M","dx":-89,"offset":0},"layer":[
   {"data":{"name":"M_s"},"mark":{"type":"errorbar","ticks":true,"thickness":3,"size":26,"color":"#000"},"encoding":{"x":{"field":"g","type":"nominal","title":null},"y":{"field":"m","type":"quantitative","title":"Splenocytes × 10⁶"},"yError":{"field":"s"}}},
   {"data":{"name":"M_s"},"mark":{"type":"bar","width":43},"encoding":{"x":{"field":"g","type":"nominal","title":null,"scale":{"domain":["OVA","OVA+2DG"],"paddingInner":0.42,"paddingOuter":0.39},"axis":{}},"y":{"field":"m","type":"quantitative","title":"Splenocytes × 10⁶","scale":{"domain":[0,100],"nice":false},"axis":{"titleFontWeight":"normal","values":[0,20,40,60,80,100],"format":"d"}}}},
   {"data":{"name":"M_p"},"mark":{"type":"point","shape":"square","size":150},"encoding":{"x":{"field":"g","type":"nominal","title":null},"xOffset":{"field":"lane","type":"ordinal","scale":{"domain":[-4,-3,-2,-1,0,1,2,3,4]}},"y":{"field":"v","type":"quantitative","title":"Splenocytes × 10⁶"},"fill":{"field":"g","type":"nominal","scale":{"domain":["Ctrl","OVA","OVA+2DG"],"range":["#d0d0d0","#000000","transparent"]},"legend":null},"stroke":{"field":"g","type":"nominal","scale":{"domain":["Ctrl","OVA","OVA+2DG"],"range":["#d0d0d0","#000000","#000000"]},"legend":null}}},
   {"data":{"name":"M_b"},"mark":{"type":"rule","strokeWidth":3,"color":"#000","strokeCap":"square"},"encoding":{"x":{"field":"a","type":"nominal","title":null},"x2":{"field":"b"},"y":{"field":"y1","type":"quantitative","title":"Splenocytes × 10⁶"},"y2":{"field":"y2"}}},
   {"data":{"name":"M_t"},"mark":{"type":"text","fontSize":34,"fontWeight":"bold","dx":36,"baseline":"alphabetic","align":"center","color":"#000"},"encoding":{"x":{"field":"g","type":"nominal","title":null},"y":{"field":"y","type":"quantitative","title":"Splenocytes × 10⁶"},"text":{"field":"t"}}}
  ]},
  {"width":172,"height":256,"title":{"text":"N","dx":-110,"offset":13},"layer":[
   {"data":{"name":"N_s"},"mark":{"type":"errorbar","ticks":true,"thickness":3,"size":26,"color":"#000"},"encoding":{"x":{"field":"g","type":"nominal","title":null},"y":{"field":"m","type":"quantitative","title":"DO11.10 % splenocytes"},"yError":{"field":"s"}}},
   {"data":{"name":"N_s"},"mark":{"type":"bar","width":43},"encoding":{"x":{"field":"g","type":"nominal","title":null,"scale":{"domain":["OVA","OVA+2DG"],"paddingInner":0.42,"paddingOuter":0.39},"axis":{}},"y":{"field":"m","type":"quantitative","title":"DO11.10 % splenocytes","scale":{"domain":[0,0.04],"nice":false},"axis":{"values":[0,0.01,0.02,0.03,0.04],"format":".2f"}}}},
   {"data":{"name":"N_p"},"mark":{"type":"point","shape":"square","size":150},"encoding":{"x":{"field":"g","type":"nominal","title":null},"xOffset":{"field":"lane","type":"ordinal","scale":{"domain":[-4,-3,-2,-1,0,1,2,3,4]}},"y":{"field":"v","type":"quantitative","title":"DO11.10 % splenocytes"},"fill":{"field":"g","type":"nominal","scale":{"domain":["Ctrl","OVA","OVA+2DG"],"range":["#d0d0d0","#000000","transparent"]},"legend":null},"stroke":{"field":"g","type":"nominal","scale":{"domain":["Ctrl","OVA","OVA+2DG"],"range":["#d0d0d0","#000000","#000000"]},"legend":null}}}
  ]},
  {"width":172,"height":256,"title":{"text":"O","dx":-88,"offset":13},"layer":[
   {"data":{"name":"O1_s"},"mark":{"type":"errorbar","ticks":true,"thickness":3,"size":26,"color":"#000"},"encoding":{"x":{"field":"g","type":"nominal","title":null},"y":{"field":"m","type":"quantitative","title":"KI67⁺  % DO11.10"},"yError":{"field":"s"}}},
   {"data":{"name":"O1_s"},"mark":{"type":"bar","width":43},"encoding":{"x":{"field":"g","type":"nominal","title":null,"scale":{"domain":["OVA","OVA+2DG"],"paddingInner":0.42,"paddingOuter":0.39},"axis":{"labelFontStyle":"italic"}},"y":{"field":"m","type":"quantitative","title":"KI67⁺  % DO11.10","scale":{"domain":[8,18],"nice":false,"zero":false},"axis":{"values":[8,10,12,14,16,18],"format":"d","labelFont":"Liberation Sans Narrow"}},"y2":{"datum":8}}},
   {"data":{"name":"O1_p"},"mark":{"type":"point","shape":"square","size":150},"encoding":{"x":{"field":"g","type":"nominal","title":null},"xOffset":{"field":"lane","type":"ordinal","scale":{"domain":[-4,-3,-2,-1,0,1,2,3,4]}},"y":{"field":"v","type":"quantitative","title":"KI67⁺  % DO11.10"},"fill":{"field":"g","type":"nominal","scale":{"domain":["Ctrl","OVA","OVA+2DG"],"range":["#d0d0d0","#000000","transparent"]},"legend":null},"stroke":{"field":"g","type":"nominal","scale":{"domain":["Ctrl","OVA","OVA+2DG"],"range":["#d0d0d0","#000000","#000000"]},"legend":null}}}
  ]},
  {"width":172,"height":256,"layer":[
   {"data":{"name":"O2_s"},"mark":{"type":"errorbar","ticks":true,"thickness":3,"size":26,"color":"#000"},"encoding":{"x":{"field":"g","type":"nominal","title":null},"y":{"field":"m","type":"quantitative","title":"CD44⁺  % DO11.10"},"yError":{"field":"s"}}},
   {"data":{"name":"O2_s"},"mark":{"type":"bar","width":43},"encoding":{"x":{"field":"g","type":"nominal","title":null,"scale":{"domain":["OVA","OVA+2DG"],"paddingInner":0.42,"paddingOuter":0.39},"axis":{"labelFontStyle":"italic"}},"y":{"field":"m","type":"quantitative","title":"CD44⁺  % DO11.10","scale":{"domain":[0,40],"nice":false},"axis":{"values":[0,10,20,30,40],"format":"d","labelFont":"Liberation Sans Narrow"}}}},
   {"data":{"name":"O2_p"},"mark":{"type":"point","shape":"square","size":150},"encoding":{"x":{"field":"g","type":"nominal","title":null},"xOffset":{"field":"lane","type":"ordinal","scale":{"domain":[-4,-3,-2,-1,0,1,2,3,4]}},"y":{"field":"v","type":"quantitative","title":"CD44⁺  % DO11.10"},"fill":{"field":"g","type":"nominal","scale":{"domain":["Ctrl","OVA","OVA+2DG"],"range":["#d0d0d0","#000000","transparent"]},"legend":null},"stroke":{"field":"g","type":"nominal","scale":{"domain":["Ctrl","OVA","OVA+2DG"],"range":["#d0d0d0","#000000","#000000"]},"legend":null}}}
  ]},
  {"width":172,"height":256,"layer":[
   {"data":{"name":"O3_s"},"mark":{"type":"errorbar","ticks":true,"thickness":3,"size":26,"color":"#000"},"encoding":{"x":{"field":"g","type":"nominal","title":null},"y":{"field":"m","type":"quantitative","title":"Tfh % DO11.10"},"yError":{"field":"s"}}},
   {"data":{"name":"O3_s"},"mark":{"type":"bar","width":43},"encoding":{"x":{"field":"g","type":"nominal","title":null,"scale":{"domain":["OVA","OVA+2DG"],"paddingInner":0.42,"paddingOuter":0.39},"axis":{"labelFontStyle":"italic"}},"y":{"field":"m","type":"quantitative","title":"Tfh % DO11.10","scale":{"domain":[0,10],"nice":false},"axis":{"values":[0,2,4,6,8,10],"format":"d","labelFont":"Liberation Sans Narrow"}}}},
   {"data":{"name":"O3_p"},"mark":{"type":"point","shape":"square","size":150},"encoding":{"x":{"field":"g","type":"nominal","title":null},"xOffset":{"field":"lane","type":"ordinal","scale":{"domain":[-4,-3,-2,-1,0,1,2,3,4]}},"y":{"field":"v","type":"quantitative","title":"Tfh % DO11.10"},"fill":{"field":"g","type":"nominal","scale":{"domain":["Ctrl","OVA","OVA+2DG"],"range":["#d0d0d0","#000000","transparent"]},"legend":null},"stroke":{"field":"g","type":"nominal","scale":{"domain":["Ctrl","OVA","OVA+2DG"],"range":["#d0d0d0","#000000","#000000"]},"legend":null}}}
  ]}
]
}
